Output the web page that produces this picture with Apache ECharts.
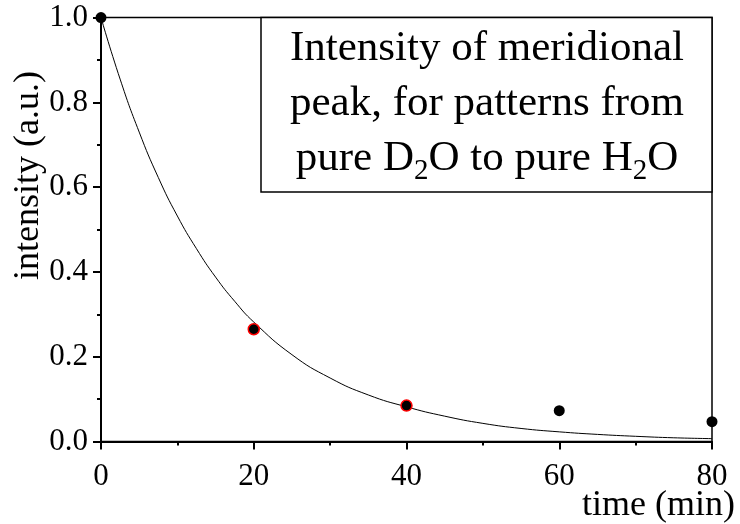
<!DOCTYPE html>
<html>
<head>
<meta charset="utf-8">
<script src="https://cdn.jsdelivr.net/npm/echarts@6/dist/echarts.min.js"></script>
<style>
  html, body { margin: 0; padding: 0; background: #fff; }
  #chart { width: 740px; height: 524px; }
</style>
</head>
<body>
<div id="chart"></div>
<script>
// measured points
const timeMin = [0, 20, 40, 60, 80];
const intensity = [1.0, 0.265, 0.085, 0.073, 0.047];
const redEdged = [false, true, true, false, false];

// fitted decay curve
const fitTime = [0, 2.5, 5, 7.5, 10, 12.5, 15, 17.5, 20, 25, 30, 35, 40, 45, 50, 55, 60, 65, 70, 75, 80];
const fitIntensity = [1.0, 0.855, 0.73, 0.623, 0.532, 0.455, 0.388, 0.331, 0.282, 0.205, 0.15, 0.11, 0.082, 0.06, 0.043, 0.031, 0.023, 0.017, 0.0125, 0.009, 0.007];

const xTicks = [0, 20, 40, 60, 80];
const yTicks = [0.0, 0.2, 0.4, 0.6, 0.8, 1.0];

const xName = 'time (min)';
const yName = 'intensity (a.u.)';
const boxLines = ['Intensity of meridional', 'peak, for patterns from', ['pure D', '2', 'O to pure H', '2', 'O']];

const FONT = 'Liberation Serif';

const chart = echarts.init(document.getElementById('chart'), null, { renderer: 'canvas' });

const boxText = boxLines.map(function (line) {
  if (Array.isArray(line)) {
    return line.map(function (p, i) { return (i % 2 === 1 ? '{s|' : '{n|') + p + '}'; }).join('');
  }
  return '{n|' + line + '}';
}).join('\n');

const option = {
  backgroundColor: '#fff',
  animation: false,
  grid: {
    left: 101, top: 17.6, width: 611, height: 424,
    show: true, borderColor: '#000', borderWidth: 1.5,
    containLabel: false, outerBoundsMode: 'none'
  },
  xAxis: {
    type: 'value', min: xTicks[0], max: xTicks[xTicks.length - 1], interval: 20,
    name: xName, nameLocation: 'end', nameGap: 23, nameMoveOverlap: false,
    nameTextStyle: { fontFamily: FONT, fontSize: 36, color: '#000', align: 'right', verticalAlign: 'top', padding: [46, 0, 0, 0] },
    axisLine: { show: true, onZero: false, lineStyle: { color: '#000', width: 2 } },
    axisTick: { show: true, inside: false, length: 8, lineStyle: { color: '#000', width: 2 } },
    minorTick: { show: true, splitNumber: 2, length: 4, lineStyle: { color: '#000', width: 2 } },
    splitLine: { show: false },
    axisLabel: { fontFamily: FONT, fontSize: 31, color: '#000', margin: 20 }
  },
  yAxis: {
    type: 'value', min: yTicks[0], max: yTicks[yTicks.length - 1], interval: 0.2,
    name: yName, nameLocation: 'middle', nameGap: 54, nameRotate: 90, nameMoveOverlap: false,
    nameTextStyle: { fontFamily: FONT, fontSize: 36, color: '#000', padding: [0, 0, 0, 108] },
    axisLine: { show: true, onZero: false, lineStyle: { color: '#000', width: 2 } },
    axisTick: { show: true, inside: false, length: 8, lineStyle: { color: '#000', width: 2 } },
    minorTick: { show: true, splitNumber: 2, length: 4, lineStyle: { color: '#000', width: 2 } },
    splitLine: { show: false },
    axisLabel: { fontFamily: FONT, fontSize: 31, color: '#000', margin: 13, padding: [6, 0, 0, 0], formatter: function (v) { return v.toFixed(1); } }
  },
  series: [
    {
      type: 'line', data: fitTime.map(function (t, i) { return [t, fitIntensity[i]]; }),
      smooth: true, showSymbol: false, symbol: 'none',
      lineStyle: { color: '#000', width: 1 }, z: 2
    },
    {
      type: 'scatter', symbolSize: 11, z: 5,
      data: timeMin.map(function (t, i) {
        return {
          value: [t, intensity[i]],
          itemStyle: redEdged[i]
            ? { color: '#000', opacity: 1, borderColor: '#ff0000', borderWidth: 1.5 }
            : { color: '#000', opacity: 1 }
        };
      })
    }
  ],
  graphic: [
    {
      type: 'rect', shape: { x: 261, y: 17.6, width: 451, height: 174.5 },
      style: { fill: '#fff', stroke: '#000', lineWidth: 1.5 }, z: 10
    },
    {
      type: 'text', x: 487, y: 103.5, z: 11,
      style: {
        text: boxText, align: 'center', verticalAlign: 'middle', fill: '#000',
        rich: {
          n: { fontFamily: FONT, fontSize: 43, lineHeight: 55, fill: '#000' },
          s: { fontFamily: FONT, fontSize: 29, lineHeight: 29, verticalAlign: 'bottom', fill: '#000' }
        }
      }
    }
  ]
};
chart.setOption(option);
</script>
</body>
</html>
